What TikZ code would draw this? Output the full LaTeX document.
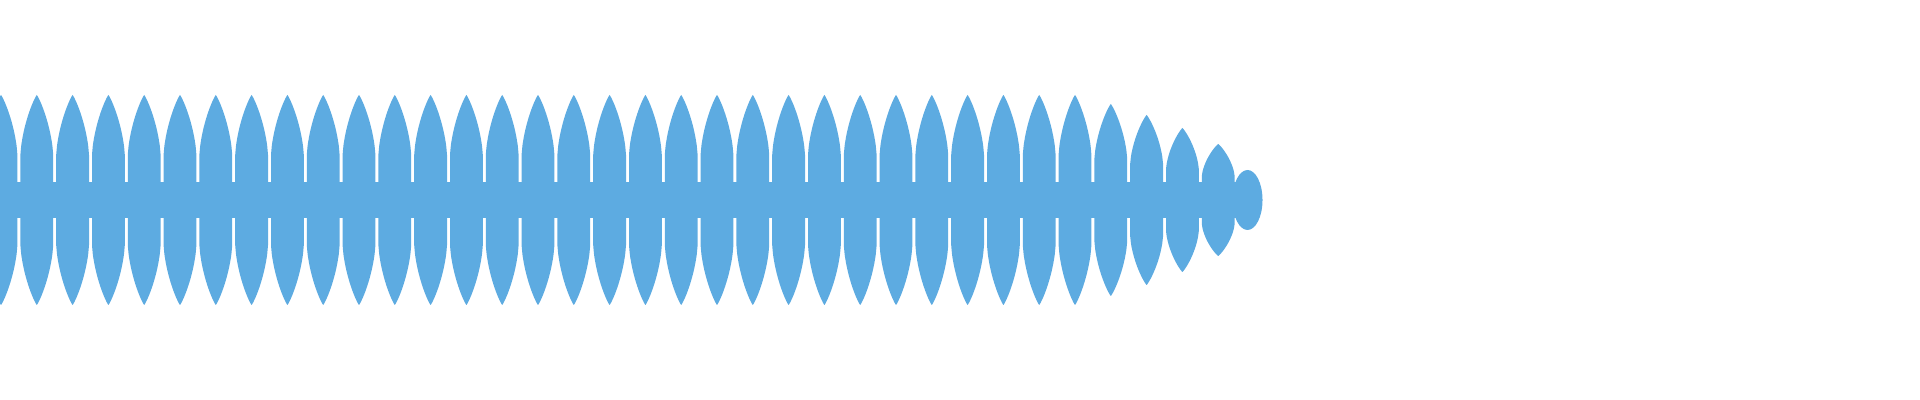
\documentclass[tikz,border=0pt]{standalone}
\definecolor{wave}{HTML}{5DABE1}
\begin{document}
\begin{tikzpicture}[x=0.5pt,y=-0.5pt,lobe/.style={fill=wave,draw=none}]
\useasboundingbox (0,0) rectangle (1920,400);
\clip (0,0) rectangle (1920,400);
\fill[wave] (0,182) rectangle (1236,218);
\foreach \k/\A in {0/105,1/105,2/105,3/105,4/105,5/105,6/105,7/105,8/105,9/105,10/105,11/105,12/105,13/105,14/105,15/105,16/105,17/105,18/105,19/105,20/105,21/105,22/105,23/105,24/105,25/105,26/105,27/105,28/105,29/105,30/105,31/96,32/85,33/72,34/56}{
  \pgfmathsetmacro{\xc}{1+35.8*\k}
  \fill[lobe] plot[domain=-16.4:16.4,samples=41,smooth] ({\xc+\x},{200-\A*(0.4+0.6*pow(1-pow(abs(\x)/16.5,1.15),0.6))})
    -- plot[domain=16.4:-16.4,samples=41,smooth] ({\xc+\x},{200+\A*(0.4+0.6*pow(1-pow(abs(\x)/16.5,1.15),0.6))}) -- cycle;
}
\fill[wave] (1247.5,200) ellipse [x radius=15, y radius=30];
\end{tikzpicture}
\end{document}
